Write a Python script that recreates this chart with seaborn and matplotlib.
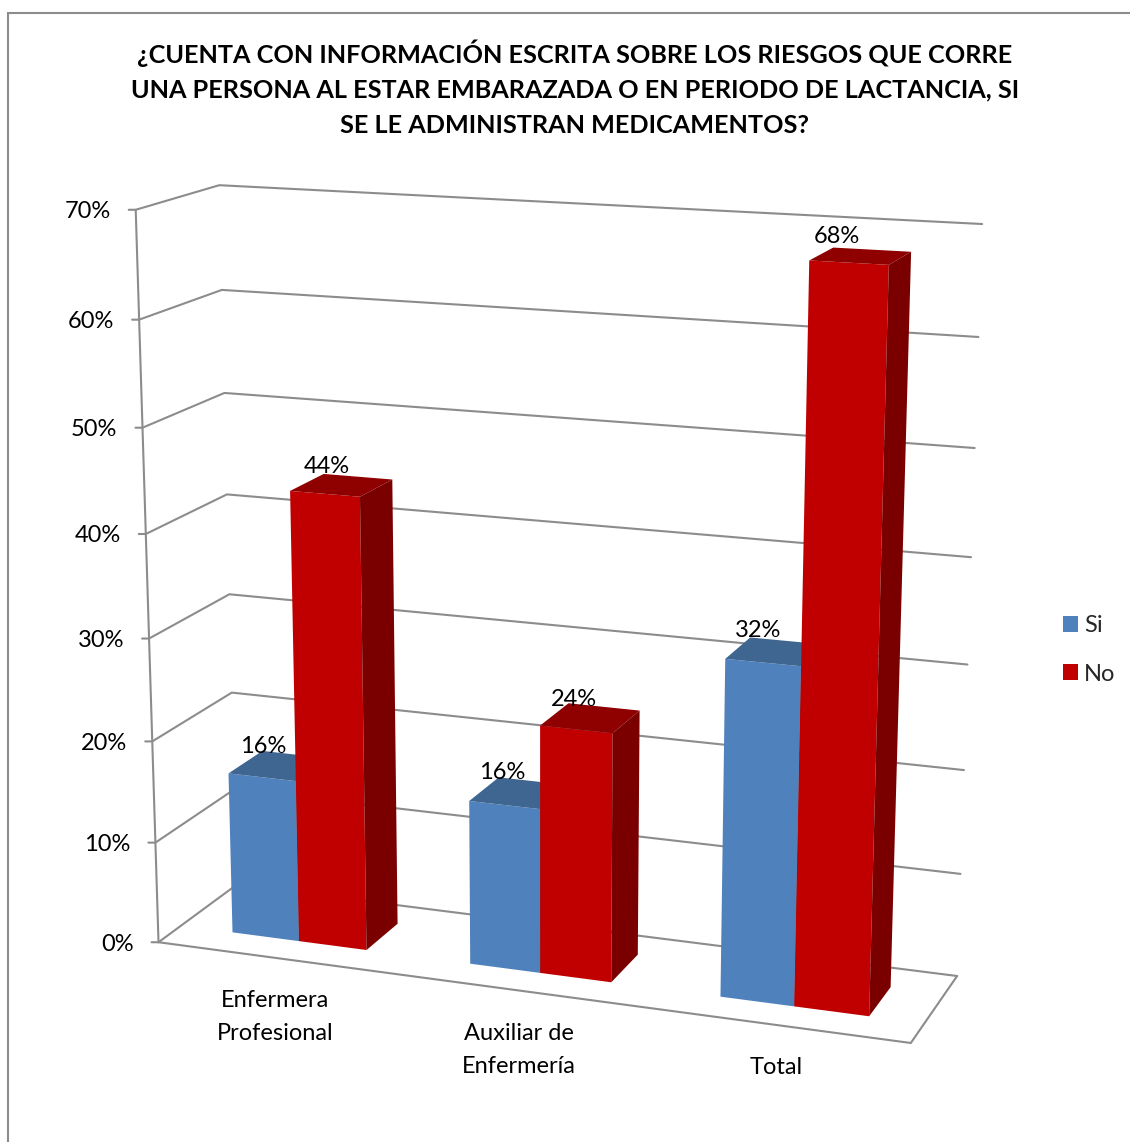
import numpy as np
import pandas as pd
import seaborn as sns
import matplotlib
matplotlib.use("Agg")
import matplotlib.pyplot as plt
from matplotlib.patches import Polygon
from matplotlib.transforms import Affine2D, Transform

categories = ["Enfermera\nProfesional", "Auxiliar de\nEnfermería", "Total"]
series = ["Si", "No"]
si_values = [16, 16, 32]
no_values = [44, 24, 68]
ticks = [0, 10, 20, 30, 40, 50, 60, 70]
title = ("¿CUENTA CON INFORMACIÓN ESCRITA SOBRE LOS RIESGOS QUE CORRE\n"
         "UNA PERSONA AL ESTAR EMBARAZADA O EN PERIODO DE LACTANCIA, SI\n"
         "SE LE ADMINISTRAN MEDICAMENTOS?")

# colours: front, top, side
front = {"Si": "#4F81BD", "No": "#C00000"}
top = {"Si": "#3F6690", "No": "#8F0000"}
side = {"Si": "#2F4F75", "No": "#7A0000"}
grid = "#8C8C8C"

W, H = 1130, 1142
D0, D1 = 0.28, 0.72   # bar depth inside the floor
SHIFT = 0.008         # bars sit a bit right of the category centre
# small nudges of the data labels, pixels
label_dx = [[1, -2, -5], [2, -2, -12]]
label_dy = [[2, 2, 0], [0, 3, -3]]
sns.set_theme(style="white")
plt.rcParams["font.family"] = ["Lato", "DejaVu Sans"]

# camera fitted on the corners of the chart box: (x, depth, value) -> pixel
xs = [-0.5, -0.5, -0.5, -0.5, 2.5, 2.5, 2.5]
ds = [0, 0, 1, 1, 1, 1, 0]
vs = [0, 70, 0, 70, 0, 70, 0]
us = [159, 135, 236, 220, 957, 982, 911]
ws = [942, 210, 885, 185, 976, 224, 1043]
A = []
for x, d, v, u, w in zip(xs, ds, vs, us, ws):
    A.append([x, d, v, 1, 0, 0, 0, 0, -u*x, -u*d, -u*v, -u])
    A.append([0, 0, 0, 0, x, d, v, 1, -w*x, -w*d, -w*v, -w])
P = np.linalg.svd(np.array(A, dtype=float))[2][-1].reshape(3, 4)


def proj(x, v, d):
    x, v = np.asarray(x, dtype=float), np.asarray(v, dtype=float)
    p = P @ np.stack([x, np.full(x.shape, float(d)), v, np.ones(x.shape)])
    return np.stack([p[0]/p[2], p[1]/p[2]], -1)


class Front(Transform):
    input_dims = output_dims = 2
    has_inverse = False

    def __init__(self, bar_depth):
        super().__init__()
        self.bar_depth = bar_depth

    def transform_non_affine(self, values):
        values = np.asarray(values)
        return proj(values[:, 0]+SHIFT, values[:, 1], self.bar_depth)


px = Affine2D().scale(1, -1).translate(0, H)  # image pixels -> display

df = pd.DataFrame({
    "cat": categories*2,
    "serie": [series[0]]*3 + [series[1]]*3,
    "val": si_values + no_values,
})

fig = plt.figure(figsize=(W/100, H/100), dpi=100)
ax = fig.add_axes([0, 0, 1, 1])
sns.barplot(data=df, x="cat", y="val", hue="serie", palette=front, hue_order=series,
            width=0.57, gap=0, saturation=1, linewidth=0, ax=ax)
sns.move_legend(ax, "center left", bbox_to_anchor=(1042/W, 1-650/H), frameon=False, title=None,
                fontsize=17, handlelength=0.64, handleheight=0.64, handletextpad=0.25, labelspacing=1.15)
ax.axis("off")


def line(pts, **kw):
    pts = np.array(pts)
    ax.plot(pts[:, 0], pts[:, 1], color=grid, lw=1.5, transform=px, clip_on=False,
            solid_joinstyle="miter", zorder=1, **kw)


def one(x, v, d):
    return proj([x], [v], d)[0]


XL, XR = -0.5, 2.5
for t in ticks:
    a, b, c = one(XL, t, 0), one(XL, t, 1), one(XR, t, 1)
    line([a - [7, 0], a, b, c])
    ax.text(a[0]-25, a[1]+2, "%d%%" % t, transform=px, fontsize=17, ha="right", va="center", color="black")
line([one(XL, 0, 0), one(XL, 70, 0)])
line([one(XL, 0, 0), one(XR, 0, 0), one(XR, 0, 1)])

for s, (serie, cont) in enumerate(zip(series, ax.containers)):
    z = 3 + s
    for i, bar in enumerate(cont):
        x0, x1, v = bar.get_x()+SHIFT, bar.get_x()+bar.get_width()+SHIFT, bar.get_height()
        bar.set_transform(Front(D0) + px)
        bar.set_clip_on(False)
        bar.set_zorder(z)
        tp = [one(x0, v, D0), one(x1, v, D0), one(x1, v, D1), one(x0, v, D1)]
        sd = [one(x1, 0, D0), one(x1, v, D0), one(x1, v, D1), one(x1, 0, D1)]
        ax.add_patch(Polygon(tp, closed=True, fc=top[serie], ec="none", transform=px, zorder=z))
        ax.add_patch(Polygon(sd, closed=True, fc=side[serie], ec="none", transform=px, zorder=z))
        lab = one((x0+x1)/2, v, D0)[0], one((x0+x1)/2, v, D1)[1]
        ax.text(lab[0]+label_dx[s][i], lab[1]+label_dy[s][i], "%d%%" % v, transform=px, fontsize=17,
                ha="center", va="bottom", color="black", zorder=6)

for i, c in enumerate(categories):
    p = one(i, 0, 0)
    ax.text(p[0]-1, p[1]+32, c, transform=px, fontsize=17, ha="center", va="top", linespacing=1.7,
            color="black", zorder=6)

ax.text(575, 88, title, transform=px, fontsize=18.2, fontweight="bold", ha="center", va="center",
        linespacing=1.64, color="black")

# outer frame of the chart area
line([(7.5, H), (7.5, 12.5), (W, 12.5)])

fig.savefig("out.png", dpi=100)
